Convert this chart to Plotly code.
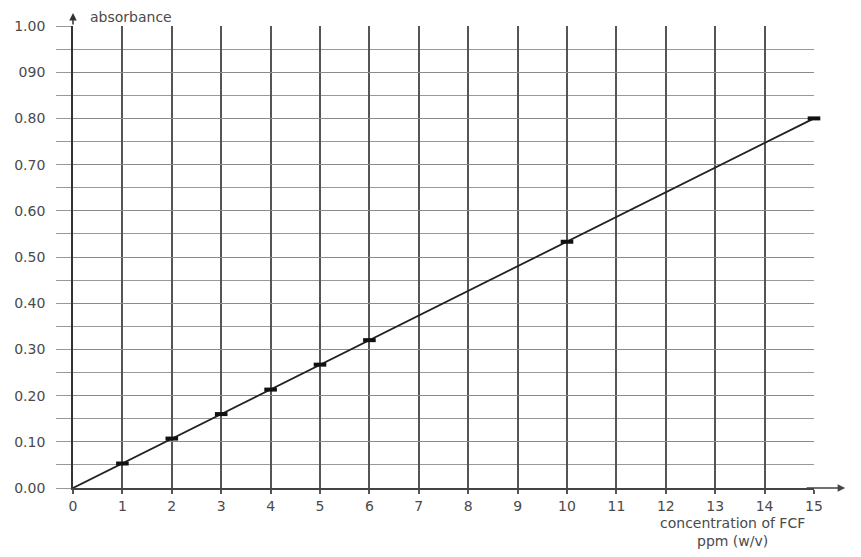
import plotly.graph_objects as go

# calibration data
concentration = [1, 2, 3, 4, 5, 6, 10, 15]
absorbance = [0.053, 0.107, 0.16, 0.213, 0.267, 0.32, 0.533, 0.80]
line_x = [0, 15]
line_y = [0.0, 0.80]

x_ticks = list(range(0, 16))
y_ticks = [0.0, 0.1, 0.2, 0.3, 0.4, 0.5, 0.6, 0.7, 0.8, 0.9, 1.0]
y_labels = ["0.00", "0.10", "0.20", "0.30", "0.40", "0.50", "0.60", "0.70", "0.80", "090", "1.00"]

font = dict(family="DejaVu Sans, Verdana, sans-serif", size=14, color="#4a4a4a")

fig = go.Figure()

# best fit line through the origin
fig.add_trace(go.Scatter(x=line_x, y=line_y, mode="lines",
                         line=dict(color="#222", width=1.8),
                         showlegend=False, hoverinfo="skip"))

# measured points, drawn as short dashes
fig.add_trace(go.Scatter(x=concentration, y=absorbance, mode="markers",
                         marker=dict(symbol="line-ew", size=9,
                                     line=dict(color="#111", width=4)),
                         cliponaxis=False, showlegend=False))

fig.update_xaxes(range=[0, 15], tickvals=x_ticks, ticks="outside", ticklen=4,
                 tickcolor="#555", tickwidth=1.5, automargin=False,
                 showgrid=True, gridcolor="#555", gridwidth=1.6,
                 showline=True, linecolor="#444", linewidth=1.5,
                 zeroline=False, tickfont=font, ticklabelstandoff=0)
fig.update_yaxes(range=[0, 1.0], tickvals=y_ticks, ticktext=y_labels, automargin=False,
                 ticks="outside", ticklen=15, tickcolor="#999", tickwidth=1.2,
                 showgrid=True, gridcolor="#8a8a8a", gridwidth=1.3,
                 minor=dict(dtick=0.05, showgrid=True, gridcolor="#999", gridwidth=1.2,
                            ticks="outside", ticklen=15, tickcolor="#999", tickwidth=1.2),
                 showline=True, linecolor="#333", linewidth=1.8,
                 zeroline=False, tickfont=font, ticklabelstandoff=8)

# axis arrows and labels
fig.add_annotation(xref="paper", yref="y", x=1.042, y=0, ax=-40, ay=0,
                   showarrow=True, arrowhead=2, arrowsize=1, arrowwidth=1.5,
                   arrowcolor="#444", text="")
fig.add_annotation(xref="x", yref="paper", x=0, y=1.028, ax=0, ay=13,
                   showarrow=True, arrowhead=2, arrowsize=1, arrowwidth=1.5,
                   arrowcolor="#333", text="")
fig.add_annotation(xref="x", yref="paper", x=0.3, y=1.019, xanchor="left", yanchor="middle",
                   showarrow=False, text="absorbance", font=font)
fig.add_annotation(xref="paper", yref="paper", x=0.89, y=-0.055, xanchor="center", yanchor="top",
                   showarrow=False, align="center",
                   text="concentration of FCF<br>ppm (w/v)", font=font)

# page body adds ~8px offset, so the figure is a bit smaller than the window
fig.update_layout(width=853, height=549,
                  margin=dict(l=65, r=47, t=18, b=69),
                  plot_bgcolor="white", paper_bgcolor="white")

fig.write_html("out.html")
